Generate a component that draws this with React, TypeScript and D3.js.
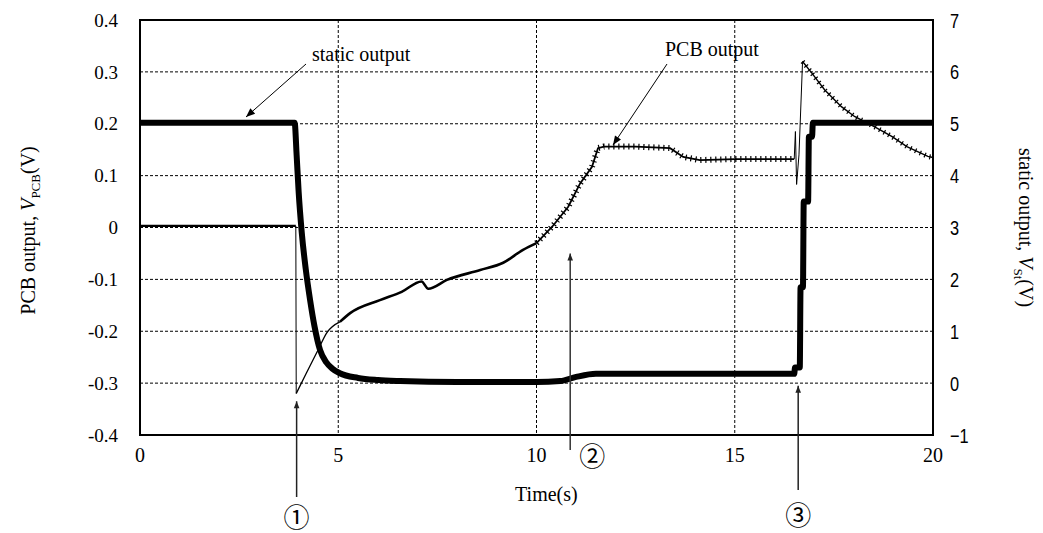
import React from 'react';
import * as d3 from 'd3';

// PCB output (left axis, V) – time (s), value
const pcbTime = [0, 3.93, 3.94, 4.2, 4.49, 4.71, 5.04, 5.3, 6.05, 6.6, 7.1, 7.27, 7.74, 8.58, 9.16, 9.66, 10.0, 10.4, 10.8, 11.1, 11.4, 11.55, 11.7, 12.5, 13.37, 13.7, 14.12, 15.0, 16.5, 16.53, 16.56, 16.62, 16.71, 16.94, 17.27, 17.69, 18.02, 18.53, 18.97, 19.34, 19.87, 20];
const pcbValue = [0.003, 0.003, -0.32, -0.28, -0.236, -0.203, -0.182, -0.165, -0.14, -0.124, -0.104, -0.118, -0.101, -0.082, -0.068, -0.043, -0.03, 0.002, 0.04, 0.085, 0.117, 0.153, 0.156, 0.156, 0.153, 0.136, 0.13, 0.132, 0.132, 0.185, 0.083, 0.14, 0.32, 0.298, 0.265, 0.233, 0.214, 0.194, 0.175, 0.156, 0.137, 0.135];

// static output (right axis, V)
const stTime = [0, 3.9, 3.95, 4.0, 4.08, 4.18, 4.29, 4.4, 4.54, 4.7, 4.85, 5.04, 5.5, 6, 6.56, 8, 10, 10.6, 11, 11.5, 16.5, 16.52, 16.64, 16.66, 16.72, 16.74, 16.85, 16.87, 16.95, 16.97, 20];
const stValue = [5.02, 5.02, 4.4, 3.7, 2.9, 2.2, 1.6, 1.1, 0.64, 0.4, 0.28, 0.19, 0.1, 0.06, 0.04, 0.02, 0.02, 0.04, 0.12, 0.18, 0.18, 0.3, 0.3, 1.85, 1.85, 3.5, 3.5, 4.75, 4.75, 5.02, 5.02];

const xTicks = [0, 5, 10, 15, 20];
const leftTicks = [0.4, 0.3, 0.2, 0.1, 0, -0.1, -0.2, -0.3, -0.4];
const leftTickLabels = ['0.4', '0.3', '0.2', '0.1', '0', '-0.1', '-0.2', '-0.3', '-0.4'];
const rightTicks = [7, 6, 5, 4, 3, 2, 1, 0, -1];
const rightTickLabels = ['7', '6', '5', '4', '3', '2', '1', '0', '\u22121'];

// annotated events (time, s)
const markerTimes = [3.95, 10.85, 16.6];
const markerLabels = ['①', '②', '③'];

const W = 1043;
const H = 533;
const m = { left: 140, right: 110, top: 20, bottom: 98 };

type P = [number, number];

export default function App() {
  const x = d3.scaleLinear().domain([0, 20]).range([m.left, W - m.right]);
  const yL = d3.scaleLinear().domain([-0.4, 0.4]).range([H - m.bottom, m.top]);
  const yR = d3.scaleLinear().domain([-1, 7]).range([H - m.bottom, m.top]);

  const pcb = pcbTime.map((t, i) => [t, pcbValue[i]] as P);
  const st = stTime.map((t, i) => [t, stValue[i]] as P);

  const pcbLine = d3.line<P>().x(d => x(d[0])).y(d => yL(d[1]));
  const pcbSmooth = d3.line<P>().x(d => x(d[0])).y(d => yL(d[1])).curve(d3.curveMonotoneX);
  const stLine = d3.line<P>().x(d => x(d[0])).y(d => yR(d[1])).curve(d3.curveMonotoneX);

  const before = pcb.filter(d => d[0] <= 3.93);
  const rise = pcb.filter(d => d[0] >= 3.94 && d[0] <= 5.04);
  const thickMid = pcb.filter(d => d[0] >= 5.04 && d[0] <= 10);
  const hatchA = pcb.filter(d => d[0] >= 10 && d[0] <= 16.5);
  const spike = pcb.filter(d => d[0] >= 16.5 && d[0] <= 16.71);
  const hatchB = pcb.filter(d => d[0] >= 16.71);

  const serif = '"Liberation Serif", "Times New Roman", serif';
  const narrow = '"Liberation Sans", Arial, sans-serif';
  const circ = '"Noto Sans CJK JP", "DejaVu Sans", sans-serif';
  const x0 = x(0), x1 = x(20), y0 = yL(-0.4), y1 = yL(0.4);

  return (
    <svg width={W} height={H} style={{ position: 'absolute', left: 0, top: 0, background: '#fff' }}>
      <defs>
        <marker id="ah" viewBox="0 0 10 10" refX="10" refY="5" markerWidth="10" markerHeight="9" orient="auto-start-reverse" markerUnits="userSpaceOnUse">
          <path d="M0,1 L10,5 L0,9 z" fill="#000" />
        </marker>
        <marker id="ahs" viewBox="0 0 10 10" refX="10" refY="5" markerWidth="8" markerHeight="7" orient="auto-start-reverse" markerUnits="userSpaceOnUse">
          <path d="M0,1 L10,5 L0,9 z" fill="#222" />
        </marker>
      </defs>

      {/* grid */}
      {leftTicks.slice(1, -1).map(v => (
        <line key={'h' + v} x1={x0} x2={x1} y1={yL(v)} y2={yL(v)} stroke="#000" strokeWidth={1} strokeDasharray="3,2" />
      ))}
      {xTicks.slice(1, -1).map(v => (
        <line key={'v' + v} x1={x(v)} x2={x(v)} y1={y1} y2={y0} stroke="#000" strokeWidth={1} strokeDasharray="3,2" />
      ))}

      {/* PCB output */}
      <path d={pcbLine(before) || ''} fill="none" stroke="#000" strokeWidth={2.2} />
      <path d={pcbLine([before[before.length - 1], rise[0]]) || ''} fill="none" stroke="#000" strokeWidth={1} />
      <path d={pcbSmooth(rise) || ''} fill="none" stroke="#000" strokeWidth={1.3} />
      <path d={pcbSmooth(thickMid) || ''} fill="none" stroke="#000" strokeWidth={2.6} />
      <path d={pcbLine(hatchA) || ''} fill="none" stroke="#000" strokeWidth={1.8} />
      <path d={pcbLine(hatchA) || ''} fill="none" stroke="#000" strokeWidth={6} strokeDasharray="1.2,3.8" />
      <path d={pcbLine(spike) || ''} fill="none" stroke="#000" strokeWidth={1} />
      <path d={pcbLine(hatchB) || ''} fill="none" stroke="#000" strokeWidth={1.4} />
      <path d={pcbLine(hatchB) || ''} fill="none" stroke="#000" strokeWidth={5} strokeDasharray="1.2,4" />

      {/* static output */}
      <path d={stLine(st) || ''} fill="none" stroke="#000" strokeWidth={6} />

      {/* frame */}
      <rect x={x0} y={y1} width={x1 - x0} height={y0 - y1} fill="none" stroke="#000" strokeWidth={2} />

      {/* left ticks */}
      {leftTicks.map((v, i) => (
        <text key={'l' + v} x={x0 - 22} y={yL(v)} dy="0.35em" textAnchor="end" fontFamily={serif} fontSize={19}>
          {leftTickLabels[i]}
        </text>
      ))}
      {/* right ticks (condensed sans) */}
      {rightTicks.map((v, i) => (
        <text key={'r' + v} transform={`translate(${x1 + 17},${yR(v)}) scale(0.78,1)`} dy="0.36em" textAnchor="start" fontFamily={narrow} fontSize={21}>
          {rightTickLabels[i]}
        </text>
      ))}
      {/* x ticks */}
      {xTicks.map(v => (
        <text key={'x' + v} x={x(v)} y={y0 + 27} textAnchor="middle" fontFamily={serif} fontSize={20}>{v}</text>
      ))}

      <text x={x(10.25)} y={y0 + 66} textAnchor="middle" fontFamily={serif} fontSize={20}>Time(s)</text>

      <text transform={`translate(35,${(y0 + y1) / 2 + 3}) rotate(-90)`} textAnchor="middle" fontFamily={serif} fontSize={20}>
        PCB output, <tspan fontStyle="italic">V</tspan><tspan fontSize={13} dy="5">PCB</tspan><tspan dy="-5">(V)</tspan>
      </text>
      <text transform={`translate(1019,${(y0 + y1) / 2}) rotate(90)`} textAnchor="middle" fontFamily={serif} fontSize={20}>
        static output, <tspan fontStyle="italic">V</tspan><tspan fontSize={13} dy="5">St</tspan><tspan dy="-5">(V)</tspan>
      </text>

      {/* callouts */}
      <text x={312} y={61} fontFamily={serif} fontSize={20}>static output</text>
      <line x1={306} y1={64} x2={246} y2={117} stroke="#000" strokeWidth={1} markerEnd="url(#ah)" />
      <text x={665} y={56} fontFamily={serif} fontSize={20}>PCB output</text>
      <line x1={667} y1={64} x2={613} y2={145} stroke="#000" strokeWidth={1} markerEnd="url(#ah)" />

      {/* numbered event arrows */}
      <line x1={x(markerTimes[0])} x2={x(markerTimes[0])} y1={497} y2={yL(-0.335)} stroke="#222" strokeWidth={1.5} markerEnd="url(#ahs)" />
      <text x={x(markerTimes[0])} y={527} textAnchor="middle" fontFamily={circ} fontSize={26}>{markerLabels[0]}</text>

      <line x1={x(markerTimes[1])} x2={x(markerTimes[1])} y1={450} y2={yL(-0.05)} stroke="#333" strokeWidth={1.5} markerEnd="url(#ahs)" />
      <text x={x(markerTimes[1]) + 22} y={466} textAnchor="middle" fontFamily={circ} fontSize={26}>{markerLabels[1]}</text>

      <line x1={x(markerTimes[2])} x2={x(markerTimes[2])} y1={490} y2={yL(-0.305)} stroke="#222" strokeWidth={1.5} markerEnd="url(#ahs)" />
      <text x={x(markerTimes[2])} y={525} textAnchor="middle" fontFamily={circ} fontSize={26}>{markerLabels[2]}</text>
    </svg>
  );
}
